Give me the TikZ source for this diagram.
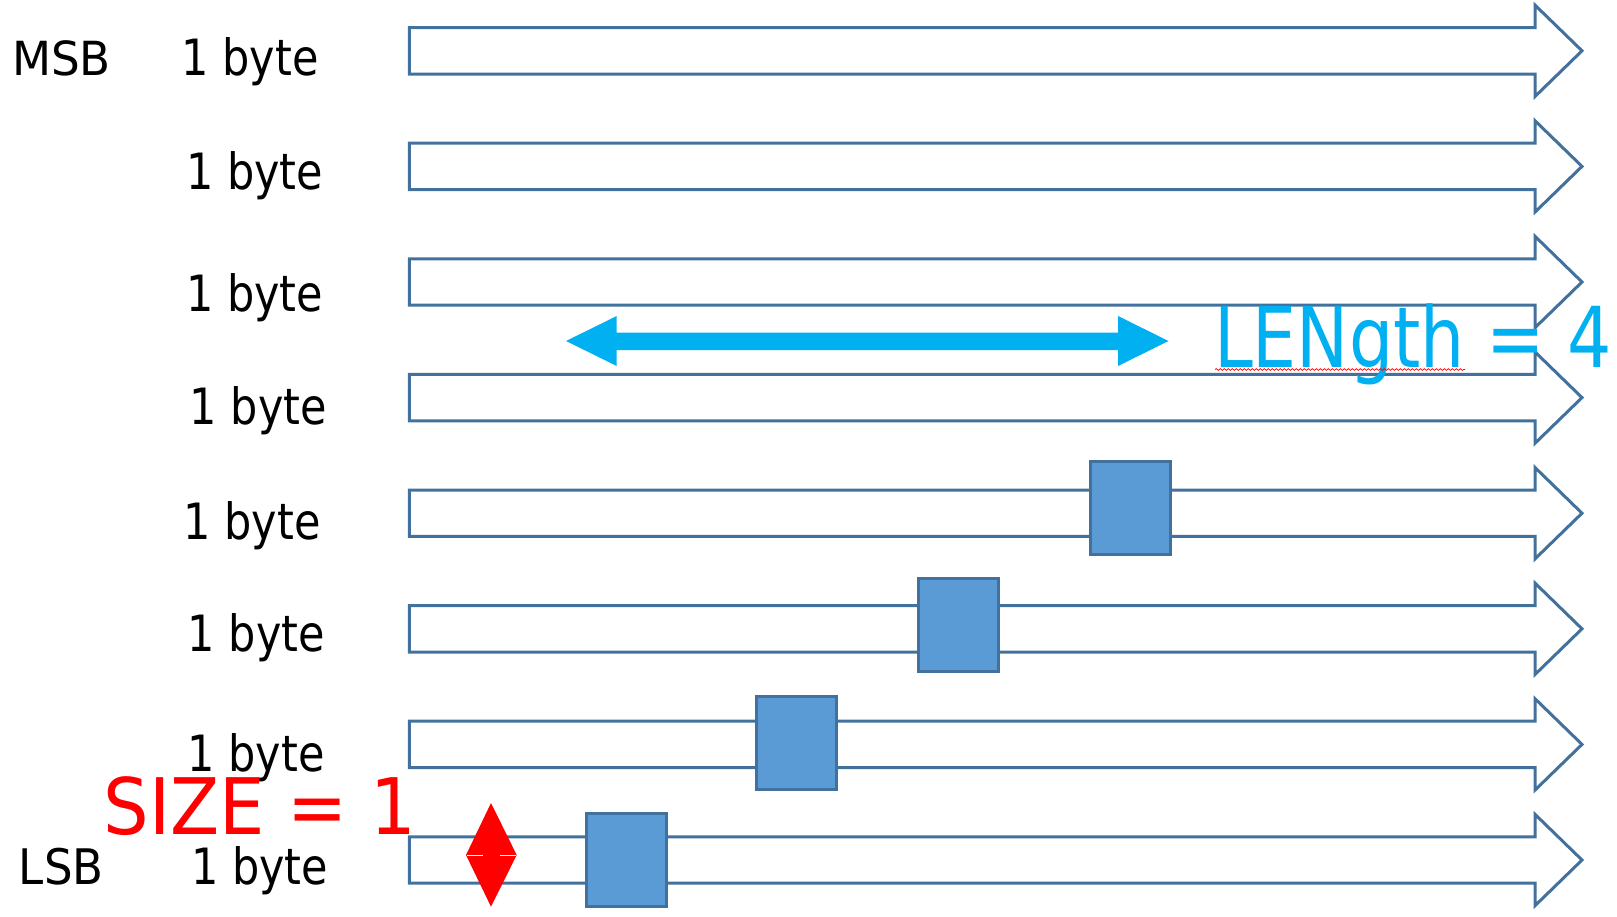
\documentclass[tikz,border=0pt]{standalone}
\usepackage{fontspec}
\usetikzlibrary{decorations.pathmorphing}
\newfontfamily\tah[FakeStretch=0.86]{DejaVu Sans}
\definecolor{outl}{HTML}{41719C}
\definecolor{sqfill}{HTML}{5B9BD5}
\definecolor{cyanarr}{HTML}{00B0F0}
\definecolor{redc}{HTML}{FF0000}
\tikzset{
  bytearrow/.style={draw=outl, line width=3pt, line join=miter, fill=white},
  marker/.style={draw=outl, fill=sqfill, line width=3pt, minimum width=80pt, minimum height=93pt, inner sep=0pt},
  lbl/.style={anchor=base, inner sep=0pt, text=black, font=\tah\fontsize{50}{60}\selectfont},
  big/.style={anchor=base, inner sep=0pt, font=\tah\fontsize{80}{96}\selectfont}
}
\begin{document}
\begin{tikzpicture}[x=1pt, y=-1pt]
\useasboundingbox (0,0) rectangle (1617,916);
% byte rows
\foreach \c in {50.8,166.4,282.0,397.6,513.2,628.8,744.4,860.0}{
  \draw[bytearrow] (409.3,\c-23.2) -- (1535,\c-23.2) -- (1535,\c-45.7) -- (1582,\c)
     -- (1535,\c+45.7) -- (1535,\c+23.2) -- (409.3,\c+23.2) -- cycle;
}
% length double arrow
\fill[cyanarr] (566,341) -- (616.7,316) -- (616.7,332.7) -- (1118,332.7) -- (1118,316)
  -- (1168.5,341) -- (1118,366) -- (1118,350) -- (616.7,350) -- (616.7,366) -- cycle;
% markers
\node[marker] (m5) at (1130,508) {};
\node[marker] (m6) at (958.6,625) {};
\node[marker] (m7) at (796.7,742.6) {};
\node[marker] (m8) at (626.3,859.5) {};
% size diamond
\fill[redc] (491,803) -- (516.7,855) -- (491,906.7) -- (466,855) -- cycle;
\draw[white, line width=0.8pt] (467,855) -- (483,855) (500,855) -- (516,855);
% labels
\node[lbl, font=\tah\fontsize{47}{56}\selectfont] (msb) at (61.5,75) {\scalebox{1.12}[1]{MSB}};
\node[lbl, font=\tah\fontsize{49}{58}\selectfont] (lsb) at (61.3,884) {\scalebox{1.07}[1]{LSB}};
\node[lbl] (b1) at (250,75) {1 byte};
\node[lbl] (b2) at (254.7,189.3) {1 byte};
\node[lbl] (b3) at (254.7,311) {1 byte};
\node[lbl] (b4) at (258.3,424) {1 byte};
\node[lbl] (b5) at (252,539.3) {1 byte};
\node[lbl] (b6) at (256.3,651) {1 byte};
\node[lbl] (b7) at (256,771.7) {1 byte};
\node[lbl] (b8) at (259.7,884) {1 byte};
\node[big, text=redc, font=\tah\fontsize{78}{94}\selectfont] (size) at (260.3,834.3) {\scalebox{1.07}[1]{SIZE = 1}};
\node[big, text=cyanarr, font=\tah\fontsize{84}{100}\selectfont] (len) at (1413,367) {\scalebox{0.965}[1]{LENgth = 4}};
\draw[redc, line width=0.7pt, decorate, decoration={snake, amplitude=0.9pt, segment length=4pt}] (1215,369.5) -- (1465,369.5);
\end{tikzpicture}
\end{document}
